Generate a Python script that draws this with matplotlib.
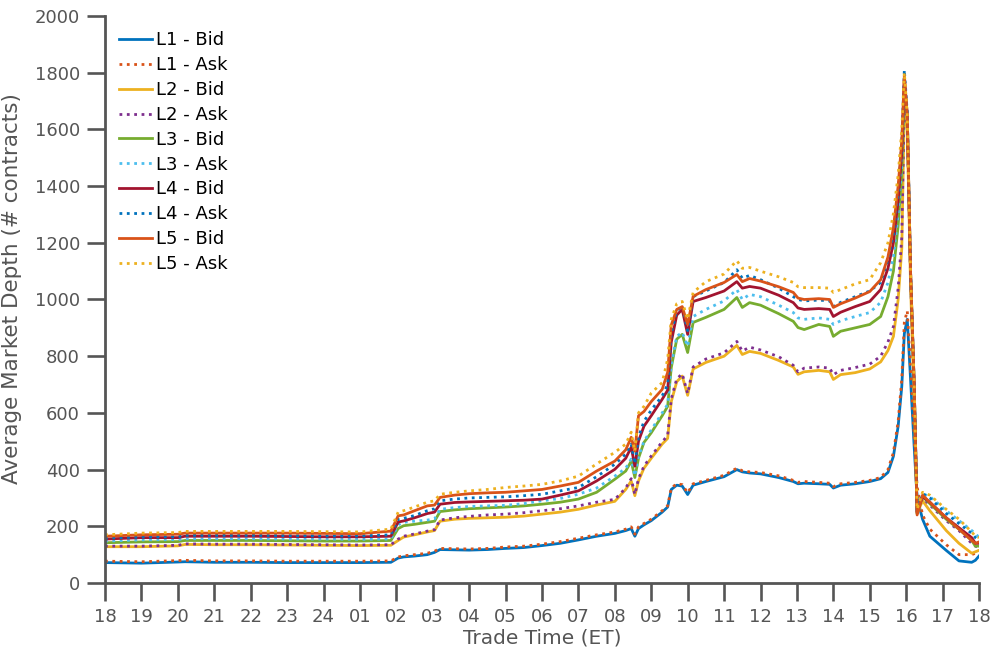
import numpy as np
import matplotlib
matplotlib.use('Agg')
import matplotlib.pyplot as plt

# hours since 18:00 ET (previous day)
hours = [0, 1, 2, 2.2, 3, 4, 5, 6, 7, 7.85,
         8.05, 8.2, 8.5, 8.85, 9.05, 9.2, 9.6, 10, 10.5, 11,
         11.5, 12, 12.5, 13, 13.5, 14, 14.3, 14.45, 14.55, 14.65,
         14.8, 15.0, 15.3, 15.45, 15.55, 15.7, 15.85, 16.0, 16.15, 16.5,
         17.0, 17.35, 17.5, 17.7, 18.0, 18.5, 18.9, 19.03, 19.2, 19.6,
         19.9, 20.0, 20.2, 20.6, 21.0, 21.3, 21.5, 21.65, 21.78, 21.88,
         21.95, 22.03, 22.12, 22.22, 22.3, 22.45, 22.65, 23.1, 23.45, 23.8,
         23.9, 24.0]

l1_bid = [72, 70, 74, 75, 73, 73, 72, 72, 72, 73,
          88, 92, 95, 100, 108, 118, 117, 116, 118, 122,
          125, 132, 140, 152, 165, 175, 185, 192, 165, 192,
          205, 220, 250, 268, 330, 345, 342, 312, 345, 358,
          375, 400, 392, 388, 385, 372, 358, 350, 352, 350,
          348, 335, 345, 350, 358, 368, 390, 447, 553, 694,
          880, 930, 720, 480, 300, 225, 165, 115, 78, 73,
          80, 95]
l1_ask = [77, 75, 79, 80, 78, 78, 77, 77, 77, 78,
          92, 96, 100, 105, 112, 122, 121, 120, 122, 127,
          130, 137, 146, 158, 170, 180, 190, 198, 172, 198,
          210, 225, 255, 272, 335, 350, 347, 318, 350, 362,
          380, 405, 396, 392, 390, 378, 362, 355, 358, 355,
          352, 340, 350, 355, 362, 372, 400, 460, 570, 720,
          920, 960, 760, 520, 340, 240, 190, 135, 100, 100,
          105, 115]
l2_bid = [128, 128, 131, 136, 135, 135, 134, 133, 132, 133,
          150, 162, 170, 180, 185, 218, 225, 228, 230, 232,
          236, 243, 250, 260, 275, 288, 330, 360, 308, 360,
          405, 440, 490, 510, 640, 710, 730, 662, 755, 778,
          800, 838, 806, 817, 810, 785, 762, 736, 745, 750,
          745, 718, 735, 742, 755, 780, 820, 870, 1000, 1180,
          1680, 1600, 1050, 650, 245, 290, 255, 185, 140, 105,
          110, 115]
l2_ask = [130, 130, 133, 138, 137, 137, 136, 135, 134, 135,
          155, 165, 173, 183, 188, 222, 230, 235, 240, 243,
          248, 255, 262, 272, 285, 295, 335, 368, 312, 368,
          412, 448, 498, 520, 650, 720, 738, 668, 762, 790,
          812, 852, 818, 832, 822, 798, 768, 745, 758, 762,
          758, 735, 750, 760, 772, 800, 850, 905, 1040, 1220,
          1720, 1620, 1080, 680, 250, 300, 275, 220, 185, 140,
          130, 125]
l3_bid = [142, 145, 146, 150, 150, 150, 149, 148, 148, 150,
          192, 202, 207, 214, 218, 252, 258, 262, 265, 268,
          272, 278, 285, 296, 320, 366, 395, 430, 372, 440,
          496, 530, 590, 623, 760, 860, 877, 813, 919, 937,
          965, 1007, 972, 989, 980, 950, 923, 901, 894, 912,
          905, 870, 888, 900, 912, 940, 1010, 1100, 1260, 1450,
          1760, 1650, 1100, 700, 245, 305, 280, 225, 190, 150,
          130, 130]
l3_ask = [148, 152, 153, 156, 156, 156, 155, 155, 154, 155,
          205, 214, 218, 222, 226, 260, 266, 270, 272, 274,
          280, 290, 298, 313, 335, 377, 405, 437, 378, 445,
          500, 540, 600, 630, 770, 870, 884, 835, 940, 965,
          995, 1035, 1000, 1018, 1010, 980, 954, 935, 930, 935,
          930, 912, 925, 940, 954, 990, 1060, 1150, 1300, 1480,
          1770, 1650, 1100, 700, 255, 315, 305, 255, 220, 185,
          175, 160]
l4_bid = [155, 160, 160, 165, 165, 165, 164, 163, 163, 165,
          215, 219, 230, 245, 250, 278, 284, 286, 288, 290,
          292, 296, 310, 325, 360, 401, 440, 479, 412, 500,
          553, 590, 648, 680, 850, 945, 965, 877, 993, 1007,
          1030, 1063, 1040, 1046, 1040, 1015, 989, 970, 965, 968,
          965, 940, 955, 975, 993, 1035, 1110, 1200, 1350, 1520,
          1780, 1650, 1100, 700, 250, 305, 285, 230, 195, 160,
          140, 140]
l4_ask = [158, 162, 163, 168, 168, 168, 167, 166, 166, 170,
          225, 228, 238, 255, 262, 290, 296, 300, 302, 304,
          308, 313, 325, 337, 375, 419, 455, 490, 420, 515,
          570, 610, 660, 700, 880, 960, 978, 890, 1010, 1030,
          1060, 1105, 1075, 1085, 1070, 1040, 1010, 1000, 995, 998,
          995, 975, 990, 1010, 1030, 1060, 1140, 1230, 1380, 1550,
          1810, 1660, 1100, 700, 255, 315, 300, 245, 210, 175,
          160, 150]
l5_bid = [165, 170, 172, 176, 176, 176, 176, 175, 174, 183,
          237, 240, 255, 272, 275, 302, 310, 315, 318, 320,
          325, 330, 342, 355, 395, 430, 470, 514, 465, 590,
          605, 640, 683, 743, 910, 965, 975, 912, 1011, 1035,
          1060, 1088, 1063, 1074, 1065, 1045, 1025, 1005, 1000, 1003,
          1000, 972, 985, 1005, 1028, 1070, 1150, 1253, 1400, 1560,
          1790, 1650, 1100, 700, 240, 310, 285, 230, 190, 150,
          140, 145]
l5_ask = [170, 176, 178, 182, 182, 182, 182, 181, 180, 190,
          250, 255, 268, 285, 290, 313, 320, 325, 330, 337,
          342, 348, 360, 377, 420, 461, 490, 532, 465, 600,
          623, 670, 707, 789, 930, 985, 993, 930, 1025, 1063,
          1090, 1137, 1110, 1113, 1100, 1080, 1060, 1045, 1042, 1042,
          1040, 1025, 1035, 1055, 1070, 1130, 1200, 1303, 1440, 1600,
          1800, 1650, 1100, 700, 260, 320, 310, 260, 225, 180,
          165, 160]

tick_labels = ['18', '19', '20', '21', '22', '23', '24', '01', '02', '03',
               '04', '05', '06', '07', '08', '09', '10', '11', '12', '13',
               '14', '15', '16', '17', '18']

series = [
    ('L1 - Bid', l1_bid, '#0072BD', '-'),
    ('L1 - Ask', l1_ask, '#D95319', ':'),
    ('L2 - Bid', l2_bid, '#EDB120', '-'),
    ('L2 - Ask', l2_ask, '#7E2F8E', ':'),
    ('L3 - Bid', l3_bid, '#77AC30', '-'),
    ('L3 - Ask', l3_ask, '#4DBEEE', ':'),
    ('L4 - Bid', l4_bid, '#A2142F', '-'),
    ('L4 - Ask', l4_ask, '#0072BD', ':'),
    ('L5 - Bid', l5_bid, '#D95319', '-'),
    ('L5 - Ask', l5_ask, '#EDB120', ':'),
]

plt.rcParams['font.family'] = ['DejaVu Sans']
gray = '#555555'

fig = plt.figure(figsize=(9.92, 6.62), dpi=100)
ax = fig.add_axes([105 / 992, 1 - 583 / 662, 874 / 992, 567 / 662])

for name, vals, color, ls in series:
    ax.plot(hours, vals, color=color, linestyle=ls, linewidth=2.0, label=name)

ax.set_xlim(0, 24)
ax.set_ylim(0, 2000)
ax.set_xticks(np.arange(25))
ax.set_xticklabels(tick_labels)
ax.set_yticks(np.arange(0, 2001, 200))

for side in ['top', 'right']:
    ax.spines[side].set_visible(False)
for side in ['left', 'bottom']:
    ax.spines[side].set_color(gray)
    ax.spines[side].set_linewidth(2.0)
ax.tick_params(direction='out', length=13, width=1.9, colors=gray,
               labelsize=13)
ax.tick_params(axis='x', pad=5)
ax.tick_params(axis='y', pad=5)

ax.set_xlabel('Trade Time (ET)', fontsize=14.5, color=gray, labelpad=2)
ax.set_ylabel('Average Market Depth (# contracts)', fontsize=15.5, color=gray,
              labelpad=3)
ax.yaxis.set_label_coords(-0.095, 0.52)

ax.legend(loc='upper left', bbox_to_anchor=(0.016, 0.973), frameon=False,
          fontsize=13, handlelength=1.83, handletextpad=0.2,
          labelspacing=0.38, borderpad=0, borderaxespad=0)

fig.savefig('out.png', dpi=100)
